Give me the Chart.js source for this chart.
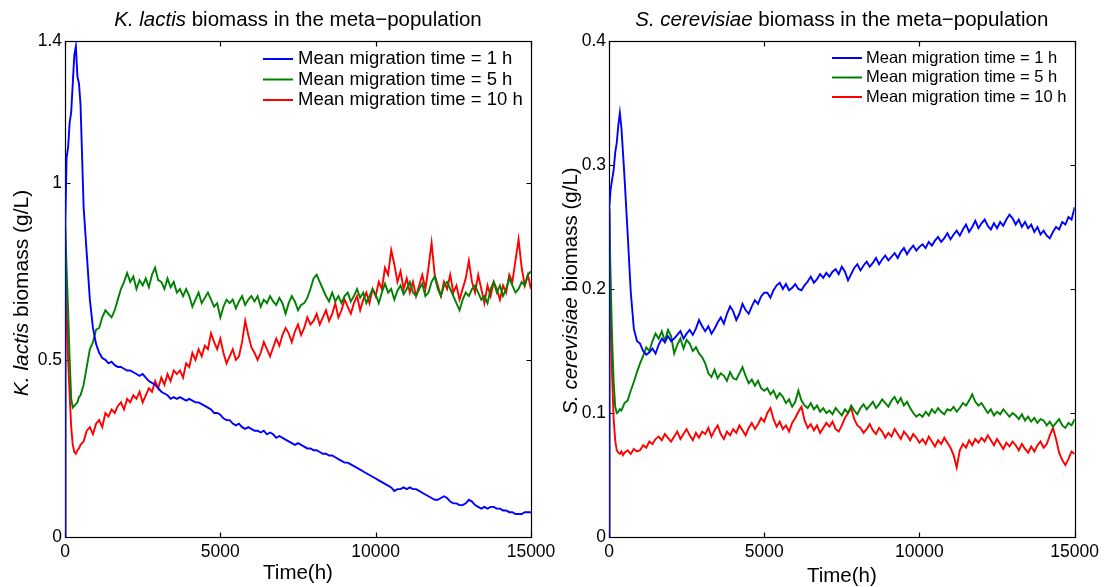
<!DOCTYPE html>
<html><head><meta charset="utf-8">
<script src="https://cdn.jsdelivr.net/npm/chart.js@4.4.1/dist/chart.umd.min.js"></script>
<style>
html,body{margin:0;padding:0;background:#fff;}
#wrap{position:relative;width:1104px;height:587px;background:#fff;}
canvas{position:absolute;left:0;top:0;}
</style></head><body>
<div id="wrap"><canvas id="c1" width="1104" height="587"></canvas><canvas id="c2" width="1104" height="587"></canvas></div>
<script>
// ---------- DATA ----------
const timeH = [0,10,50,100,150,200,250,300,350,400,450,500,
600,700,800,900,1000,
1100,1200,1300,1400,1500,1600,1700,1800,1900,2000,
2100,2200,2300,2400,2500,2600,2700,2800,2900,3000,
3100,3200,3300,3400,3500,3600,3700,3800,3900,4000,
4100,4200,4300,4400,4500,4600,4700,4800,4900,5000,
5100,5200,5300,5400,5500,5600,5700,5800,5900,6000,
6100,6200,6300,6400,6500,6600,6700,6800,6900,7000,
7100,7200,7300,7400,7500,7600,7700,7800,7900,8000,
8100,8200,8300,8400,8500,8600,8700,8800,8900,9000,
9100,9200,9300,9400,9500,9600,9700,9800,9900,10000,
10100,10200,10300,10400,10500,10600,10700,10800,10900,11000,
11100,11200,11300,11400,11500,11600,11700,11800,11900,12000,
12100,12200,12300,12400,12500,12600,12700,12800,12900,13000,
13100,13200,13300,13400,13500,13600,13700,13800,13900,14000,
14100,14200,14300,14400,14500,14600,14700,14800,14900,15000];

const xTicks = [0,5000,10000,15000];
const kTicks = [0,0.5,1,1.4];
const sTicks = [0,0.1,0.2,0.3,0.4];
const seriesLabels = ['Mean migration time = 1 h','Mean migration time = 5 h','Mean migration time = 10 h'];
const seriesColors = ['#0000ff','#008000','#ff0000'];

// K. lactis biomass (g/L)
const kLactis1h = [0,0.88,1.07,1.10,1.17,1.20,1.28,1.36,1.385,1.30,1.28,1.22,
0.93,0.80,0.67,0.59,0.545,
0.52,0.505,0.50,0.49,0.495,0.485,0.48,0.48,0.475,0.47,
0.47,0.465,0.46,0.455,0.46,0.45,0.44,0.435,0.43,0.42,
0.41,0.405,0.40,0.39,0.395,0.39,0.395,0.39,0.385,0.39,
0.385,0.38,0.38,0.375,0.37,0.365,0.36,0.35,0.35,0.345,
0.335,0.33,0.33,0.32,0.315,0.32,0.31,0.305,0.31,0.305,
0.30,0.30,0.295,0.30,0.29,0.295,0.29,0.28,0.285,0.28,
0.275,0.27,0.265,0.26,0.265,0.26,0.255,0.25,0.25,0.245,
0.245,0.24,0.235,0.235,0.23,0.23,0.225,0.22,0.215,0.21,
0.21,0.205,0.20,0.195,0.19,0.185,0.18,0.175,0.17,0.165,
0.16,0.155,0.15,0.145,0.14,0.13,0.135,0.135,0.14,0.135,
0.14,0.135,0.135,0.13,0.125,0.12,0.115,0.11,0.105,0.105,
0.11,0.115,0.11,0.10,0.095,0.095,0.09,0.09,0.095,0.105,
0.10,0.09,0.085,0.08,0.085,0.08,0.085,0.085,0.08,0.08,
0.075,0.075,0.07,0.07,0.065,0.065,0.065,0.07,0.07,0.07];

const kLactis5h = [0,0.88,0.76,0.64,0.50,0.39,0.365,0.37,0.375,0.38,0.395,0.40,
0.43,0.48,0.53,0.55,0.585,
0.59,0.62,0.64,0.63,0.62,0.64,0.67,0.70,0.72,0.745,
0.72,0.735,0.70,0.725,0.71,0.73,0.705,0.74,0.76,0.725,
0.72,0.70,0.73,0.705,0.72,0.69,0.70,0.68,0.70,0.68,
0.65,0.67,0.69,0.66,0.675,0.69,0.67,0.65,0.66,0.62,
0.65,0.67,0.66,0.67,0.645,0.665,0.68,0.655,0.67,0.68,
0.665,0.68,0.65,0.67,0.66,0.68,0.665,0.655,0.675,0.66,
0.63,0.66,0.68,0.665,0.64,0.655,0.66,0.675,0.70,0.73,
0.74,0.72,0.70,0.68,0.665,0.69,0.665,0.68,0.66,0.68,
0.69,0.665,0.68,0.70,0.675,0.69,0.66,0.68,0.70,0.685,
0.66,0.69,0.715,0.69,0.70,0.67,0.695,0.71,0.685,0.70,
0.72,0.69,0.68,0.70,0.715,0.68,0.69,0.72,0.735,0.70,
0.68,0.71,0.72,0.70,0.68,0.66,0.64,0.67,0.69,0.68,
0.70,0.71,0.69,0.67,0.68,0.66,0.70,0.72,0.69,0.71,
0.68,0.70,0.73,0.71,0.69,0.70,0.72,0.71,0.74,0.75];

const kLactis10h = [0,0.84,0.65,0.50,0.40,0.31,0.26,0.24,0.235,0.245,0.25,0.26,
0.27,0.30,0.31,0.29,0.32,
0.33,0.31,0.35,0.34,0.36,0.35,0.37,0.38,0.36,0.39,
0.38,0.40,0.39,0.41,0.38,0.40,0.42,0.41,0.44,0.42,
0.45,0.43,0.46,0.44,0.47,0.46,0.47,0.45,0.49,0.48,
0.52,0.50,0.53,0.51,0.54,0.53,0.575,0.55,0.53,0.56,
0.52,0.49,0.51,0.53,0.50,0.51,0.55,0.61,0.57,0.535,
0.52,0.50,0.52,0.55,0.53,0.51,0.535,0.56,0.54,0.57,
0.59,0.575,0.55,0.58,0.60,0.57,0.59,0.62,0.60,0.61,
0.63,0.60,0.62,0.64,0.61,0.63,0.66,0.62,0.64,0.67,
0.65,0.63,0.66,0.68,0.64,0.67,0.69,0.66,0.70,0.68,
0.72,0.70,0.76,0.74,0.81,0.77,0.72,0.75,0.70,0.73,
0.69,0.72,0.68,0.71,0.74,0.70,0.76,0.83,0.74,0.71,
0.68,0.72,0.70,0.74,0.69,0.71,0.67,0.70,0.73,0.78,
0.72,0.69,0.74,0.70,0.66,0.71,0.68,0.72,0.70,0.67,
0.71,0.69,0.74,0.72,0.78,0.84,0.76,0.71,0.74,0.70];

// S. cerevisiae biomass (g/L)
const sCerev1h = [0,0.266,0.28,0.288,0.296,0.31,0.318,0.332,0.342,0.33,0.31,0.29,
0.245,0.198,0.168,0.158,0.156,
0.15,0.147,0.149,0.152,0.148,0.155,0.16,0.157,0.162,0.158,
0.16,0.163,0.166,0.16,0.164,0.167,0.163,0.168,0.175,0.17,
0.166,0.17,0.164,0.168,0.173,0.177,0.172,0.18,0.186,0.182,
0.175,0.18,0.188,0.183,0.18,0.186,0.191,0.188,0.194,0.197,
0.197,0.193,0.199,0.203,0.205,0.20,0.204,0.199,0.201,0.204,
0.20,0.199,0.203,0.206,0.21,0.205,0.208,0.212,0.209,0.213,
0.21,0.214,0.216,0.212,0.218,0.214,0.207,0.212,0.217,0.22,
0.215,0.219,0.222,0.218,0.221,0.225,0.22,0.224,0.227,0.223,
0.226,0.229,0.225,0.23,0.233,0.228,0.232,0.235,0.231,0.234,
0.236,0.233,0.238,0.235,0.239,0.242,0.238,0.241,0.245,0.24,
0.244,0.247,0.243,0.248,0.252,0.246,0.25,0.255,0.249,0.253,
0.256,0.251,0.248,0.253,0.249,0.254,0.251,0.256,0.26,0.257,
0.252,0.256,0.25,0.254,0.249,0.252,0.246,0.25,0.244,0.247,
0.243,0.241,0.246,0.25,0.248,0.254,0.252,0.258,0.256,0.266];

const sCerev5h = [0,0.265,0.21,0.16,0.125,0.105,0.10,0.101,0.103,0.102,0.105,0.108,
0.11,0.118,0.125,0.133,0.14,
0.146,0.153,0.15,0.158,0.164,0.16,0.166,0.158,0.167,0.162,
0.148,0.155,0.16,0.152,0.159,0.156,0.15,0.153,0.148,0.145,
0.14,0.132,0.129,0.135,0.128,0.132,0.13,0.126,0.133,0.128,
0.127,0.132,0.137,0.13,0.124,0.127,0.122,0.126,0.12,0.118,
0.12,0.115,0.118,0.112,0.116,0.113,0.108,0.111,0.105,0.109,
0.118,0.11,0.106,0.104,0.108,0.103,0.106,0.101,0.104,0.1,
0.102,0.099,0.104,0.101,0.098,0.103,0.1,0.106,0.102,0.099,
0.104,0.107,0.103,0.106,0.109,0.104,0.107,0.111,0.108,0.105,
0.11,0.113,0.108,0.112,0.106,0.109,0.104,0.1,0.097,0.099,
0.097,0.101,0.098,0.103,0.1,0.104,0.101,0.099,0.103,0.102,
0.105,0.101,0.104,0.108,0.106,0.11,0.115,0.109,0.106,0.108,
0.104,0.1,0.103,0.098,0.101,0.099,0.103,0.1,0.097,0.1,
0.098,0.095,0.099,0.094,0.097,0.093,0.096,0.092,0.095,0.094,
0.09,0.093,0.089,0.092,0.095,0.09,0.088,0.092,0.09,0.095];

const sCerev10h = [0,0.265,0.19,0.13,0.095,0.078,0.07,0.068,0.067,0.069,0.066,0.068,
0.07,0.067,0.071,0.069,0.07,
0.074,0.072,0.077,0.075,0.079,0.081,0.078,0.083,0.08,0.077,
0.081,0.085,0.079,0.083,0.087,0.082,0.078,0.084,0.08,0.085,
0.083,0.088,0.081,0.086,0.09,0.083,0.079,0.085,0.082,0.087,
0.084,0.09,0.086,0.082,0.088,0.092,0.087,0.091,0.096,0.093,
0.1,0.104,0.095,0.089,0.093,0.087,0.09,0.085,0.092,0.096,
0.101,0.105,0.094,0.088,0.091,0.086,0.09,0.084,0.088,0.092,
0.089,0.093,0.087,0.085,0.09,0.096,0.1,0.104,0.095,0.09,
0.088,0.084,0.087,0.091,0.086,0.083,0.088,0.085,0.08,0.084,
0.081,0.087,0.083,0.079,0.085,0.082,0.078,0.083,0.08,0.076,
0.079,0.075,0.081,0.077,0.073,0.078,0.075,0.08,0.076,0.072,
0.066,0.056,0.07,0.075,0.072,0.078,0.074,0.079,0.076,0.08,
0.077,0.082,0.078,0.074,0.079,0.075,0.071,0.076,0.073,0.077,
0.074,0.07,0.075,0.071,0.068,0.073,0.069,0.074,0.077,0.072,
0.075,0.082,0.088,0.079,0.068,0.062,0.058,0.063,0.069,0.067];

const kTitle = [['K. lactis',true],[' biomass in the meta\u2212population',false]];
const kYLabel = [['K. lactis',true],[' biomass (g/L)',false]];
const sTitle = [['S. cerevisiae',true],[' biomass in the meta\u2212population',false]];
const sYLabel = [['S. cerevisiae',true],[' biomass (g/L)',false]];
const xLabel = 'Time(h)';

// ---------- DRAWING ----------
const FONT = '"Liberation Sans", Arial, Helvetica, sans-serif';

function drawParts(ctx, parts, cx, cy, size){
  let widths = parts.map(p=>{ctx.font=(p[1]?'italic ':'')+size+'px '+FONT; return ctx.measureText(p[0]).width;});
  let total = widths.reduce((a,b)=>a+b,0);
  let x = cx - total/2;
  ctx.textAlign='left'; ctx.textBaseline='middle'; ctx.fillStyle='#000';
  parts.forEach((p,i)=>{ctx.font=(p[1]?'italic ':'')+size+'px '+FONT; ctx.fillText(p[0], x, cy); x += widths[i];});
}

const framePlugin = {
  id:'frame',
  beforeDatasetsDraw(chart){
    const {ctx, chartArea:a, scales:{x,y}} = chart;
    ctx.save();
    ctx.strokeStyle='#000'; ctx.lineWidth=1.2;
    const L=Math.round(a.left)+0.5, R=Math.round(a.right)+0.5, T=Math.round(a.top)+0.5, B=Math.round(a.bottom)+0.5;
    ctx.strokeRect(L,T,R-L,B-T);
    ctx.beginPath();
    x.ticks.forEach(t=>{const px=Math.round(x.getPixelForValue(t.value))+0.5; ctx.moveTo(px,B); ctx.lineTo(px,B-5); ctx.moveTo(px,T); ctx.lineTo(px,T+5);});
    y.ticks.forEach(t=>{const py=Math.round(y.getPixelForValue(t.value))+0.5; ctx.moveTo(L,py); ctx.lineTo(L+5,py); ctx.moveTo(R,py); ctx.lineTo(R-5,py);});
    ctx.stroke();
    ctx.restore();
  },
  afterDraw(chart, args, o){
    const {ctx, chartArea:a} = chart;
    const cx = (a.left+a.right)/2;
    ctx.save();
    drawParts(ctx, o.title, cx, o.titleY, 20.5);
    ctx.font='20.5px '+FONT; ctx.textAlign='center'; ctx.textBaseline='middle'; ctx.fillStyle='#000';
    ctx.fillText(xLabel, cx, o.xLabelY);
    ctx.save();
    ctx.translate(o.yLabelX, o.yLabelY);
    ctx.rotate(-Math.PI/2);
    drawParts(ctx, o.ylabel, 0, 0, o.yLabelSize);
    ctx.restore();
    // legend
    const lg = o.legend;
    chart.data.datasets.forEach((ds,i)=>{
      const yy = lg.y0 + i*lg.dy;
      ctx.strokeStyle = ds.borderColor; ctx.lineWidth = 2;
      ctx.beginPath(); ctx.moveTo(lg.x0, yy); ctx.lineTo(lg.x1, yy); ctx.stroke();
      ctx.font = lg.size+'px '+FONT; ctx.fillStyle='#000'; ctx.textAlign='left'; ctx.textBaseline='middle';
      ctx.fillText(ds.label, lg.tx, yy);
    });
    ctx.restore();
  }
};

function makeChart(id, series, yTicks, yMax, pad, frameOpts){
  return new Chart(document.getElementById(id), {
    type:'line',
    data:{datasets: series.map((arr,i)=>({
      label: seriesLabels[i],
      data: timeH.map((t,j)=>({x:t, y:arr[j]})),
      borderColor: seriesColors[i], borderWidth:1.9, pointRadius:0, tension:0, fill:false
    }))},
    options:{
      responsive:false, animation:false, devicePixelRatio:1,
      layout:{padding:pad},
      plugins:{legend:{display:false}, tooltip:{enabled:false}, title:{display:false}, frame: frameOpts},
      scales:{
        x:{type:'linear', min:0, max:15000,
          afterBuildTicks:(s)=>{s.ticks = xTicks.map(v=>({value:v}));},
          afterFit:(s)=>{s.height = 50;},
          grid:{display:false, drawTicks:false}, border:{display:false},
          ticks:{padding:5, color:'#000', font:{family:FONT, size:17.5}, maxRotation:0, autoSkip:false,
            callback:(v)=>String(v)}},
        y:{type:'linear', min:0, max:yMax,
          afterBuildTicks:(s)=>{s.ticks = yTicks.map(v=>({value:v}));},
          afterFit:(s)=>{s.width = 65;},
          grid:{display:false, drawTicks:false}, border:{display:false},
          ticks:{padding:3, color:'#000', font:{family:FONT, size:17.5}, autoSkip:false,
            callback:(v)=>String(v)}}
      }
    },
    plugins:[framePlugin]
  });
}

makeChart('c1', [kLactis1h, kLactis5h, kLactis10h], kTicks, 1.4,
  {left:0, top:41, right:573, bottom:0},
  {title:kTitle, ylabel:kYLabel, titleY:20, xLabelY:573, yLabelX:22, yLabelY:293, yLabelSize:21,
   legend:{x0:263, x1:293, tx:298, y0:59, dy:20.5, size:18.5}});
makeChart('c2', [sCerev1h, sCerev5h, sCerev10h], sTicks, 0.4,
  {left:544, top:41, right:29, bottom:0},
  {title:sTitle, ylabel:sYLabel, titleY:20, xLabelY:576, yLabelX:571, yLabelY:291, yLabelSize:20.5,
   legend:{x0:832, x1:862, tx:866, y0:58, dy:19.5, size:16.5}});
</script>
</body></html>
